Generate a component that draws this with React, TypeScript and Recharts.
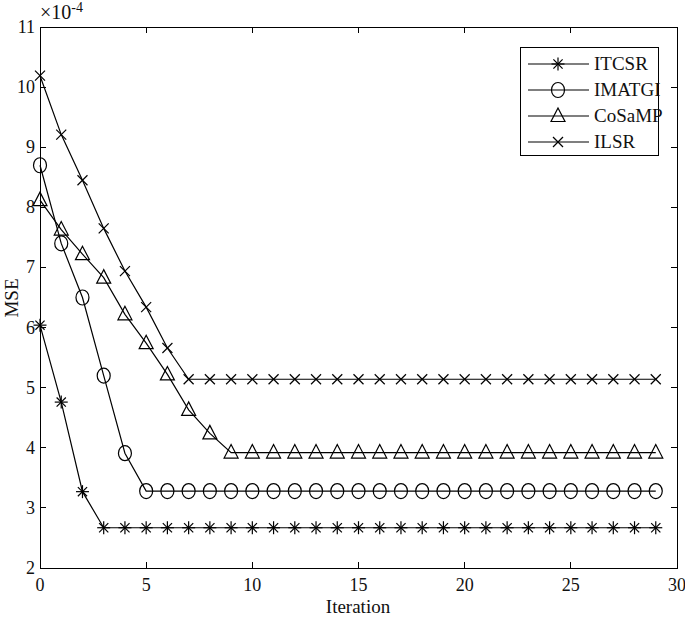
import { Line, LineChart, XAxis, YAxis } from 'recharts'

// MSE values are in units of 1e-4, as on the axis
const ITERATIONS = [
  0, 1, 2, 3, 4, 5, 6, 7, 8, 9, 10, 11, 12, 13, 14, 15, 16, 17, 18, 19, 20, 21, 22, 23, 24, 25, 26, 27, 28, 29,
]
const ITCSR = [
  6.04, 4.76, 3.27, 2.67, 2.67, 2.67, 2.67, 2.67, 2.67, 2.67, 2.67, 2.67, 2.67, 2.67, 2.67, 2.67, 2.67, 2.67, 2.67,
  2.67, 2.67, 2.67, 2.67, 2.67, 2.67, 2.67, 2.67, 2.67, 2.67, 2.67,
]
const IMATGI = [
  8.7, 7.4, 6.5, 5.2, 3.91, 3.28, 3.28, 3.28, 3.28, 3.28, 3.28, 3.28, 3.28, 3.28, 3.28, 3.28, 3.28, 3.28, 3.28, 3.28,
  3.28, 3.28, 3.28, 3.28, 3.28, 3.28, 3.28, 3.28, 3.28, 3.28,
]
const COSAMP = [
  8.12, 7.63, 7.22, 6.83, 6.22, 5.74, 5.22, 4.63, 4.24, 3.92, 3.92, 3.92, 3.92, 3.92, 3.92, 3.92, 3.92, 3.92, 3.92,
  3.92, 3.92, 3.92, 3.92, 3.92, 3.92, 3.92, 3.92, 3.92, 3.92, 3.92,
]
const ILSR = [
  10.19, 9.21, 8.45, 7.65, 6.94, 6.34, 5.66, 5.14, 5.14, 5.14, 5.14, 5.14, 5.14, 5.14, 5.14, 5.14, 5.14, 5.14, 5.14,
  5.14, 5.14, 5.14, 5.14, 5.14, 5.14, 5.14, 5.14, 5.14, 5.14, 5.14,
]
const X_DOMAIN = [0, 30]
const Y_DOMAIN = [2, 11]
const X_TICKS = [0, 5, 10, 15, 20, 25, 30]
const Y_TICKS = [2, 3, 4, 5, 6, 7, 8, 9, 10, 11]

const SERIES = [
  { key: 'ITCSR', values: ITCSR, marker: 'star' },
  { key: 'IMATGI', values: IMATGI, marker: 'circle' },
  { key: 'CoSaMP', values: COSAMP, marker: 'triangle' },
  { key: 'ILSR', values: ILSR, marker: 'cross' },
]

const data = ITERATIONS.map((it, i) => {
  const row: Record<string, number> = { it }
  SERIES.forEach((s) => (row[s.key] = s.values[i]))
  return row
})

const FONT = '"Liberation Serif", "Times New Roman", serif'
const INK = '#000'
const W = 685
const H = 619
const MARGIN = { top: 27, right: 8, left: 0, bottom: 0 }
const Y_AXIS_W = 40
const X_AXIS_H = 51
const TICK_LEN = 6

// plot box, from the same layout numbers the chart uses
const PLOT = {
  left: MARGIN.left + Y_AXIS_W,
  right: W - MARGIN.right,
  top: MARGIN.top,
  bottom: H - MARGIN.bottom - X_AXIS_H,
}
const sx = (v: number) => PLOT.left + ((v - X_DOMAIN[0]) / (X_DOMAIN[1] - X_DOMAIN[0])) * (PLOT.right - PLOT.left)
const sy = (v: number) => PLOT.bottom - ((v - Y_DOMAIN[0]) / (Y_DOMAIN[1] - Y_DOMAIN[0])) * (PLOT.bottom - PLOT.top)

function Marker({ type, cx, cy }: { type: string; cx: number; cy: number }) {
  const sw = 1.2
  if (type === 'circle') {
    return <ellipse cx={cx} cy={cy} rx={6.5} ry={7.5} fill="none" stroke={INK} strokeWidth={sw} />
  }
  if (type === 'triangle') {
    return (
      <polygon
        points={`${cx},${cy - 8} ${cx - 7},${cy + 5.5} ${cx + 7},${cy + 5.5}`}
        fill="none"
        stroke={INK}
        strokeWidth={sw}
      />
    )
  }
  if (type === 'cross') {
    const d = 5
    return (
      <g stroke={INK} strokeWidth={sw}>
        <line x1={cx - d} y1={cy - d} x2={cx + d} y2={cy + d} />
        <line x1={cx - d} y1={cy + d} x2={cx + d} y2={cy - d} />
      </g>
    )
  }
  const r = 6.5
  const d = 4.6
  return (
    <g stroke={INK} strokeWidth={sw}>
      <line x1={cx} y1={cy - r} x2={cx} y2={cy + r} />
      <line x1={cx - r} y1={cy} x2={cx + r} y2={cy} />
      <line x1={cx - d} y1={cy - d} x2={cx + d} y2={cy + d} />
      <line x1={cx - d} y1={cy + d} x2={cx + d} y2={cy - d} />
    </g>
  )
}

const BottomTick = ({ x, y, payload }: any) => (
  <text x={x} y={y} dy={14} textAnchor="middle" fontFamily={FONT} fontSize={18} fill="#111">
    {payload.value}
  </text>
)
const LeftTick = ({ x, y, payload }: any) => (
  <text x={x} y={y} dy={6} textAnchor="end" fontFamily={FONT} fontSize={18} fill="#111">
    {payload.value}
  </text>
)

const bar = (left: number, top: number, width: number, height: number, key: string) => (
  <div key={key} style={{ position: 'absolute', left, top, width, height, background: INK }} />
)

// box + inward ticks on all four sides (MATLAB look), as plain html so it sits on top
const Frame = () => (
  <div style={{ position: 'absolute', left: 0, top: 0, width: W, height: H, pointerEvents: 'none' }}>
    <div
      style={{
        position: 'absolute',
        left: PLOT.left - 0.5,
        top: PLOT.top - 0.5,
        width: PLOT.right - PLOT.left + 1,
        height: PLOT.bottom - PLOT.top + 1,
        border: `1px solid ${INK}`,
        boxSizing: 'border-box',
      }}
    />
    {X_TICKS.slice(1, -1).map((t) => [
      bar(sx(t) - 0.5, PLOT.bottom - TICK_LEN, 1, TICK_LEN, `xb${t}`),
      bar(sx(t) - 0.5, PLOT.top, 1, TICK_LEN, `xt${t}`),
    ])}
    {Y_TICKS.slice(1, -1).map((t) => [
      bar(PLOT.left, sy(t) - 0.5, TICK_LEN, 1, `yl${t}`),
      bar(PLOT.right - TICK_LEN, sy(t) - 0.5, TICK_LEN, 1, `yr${t}`),
    ])}
  </div>
)

const LegendBox = () => (
  <div
    style={{
      position: 'absolute',
      left: 520,
      top: 47,
      width: 137,
      height: 107,
      border: `1px solid ${INK}`,
      background: '#fff',
      fontFamily: FONT,
      fontSize: 19,
      color: '#111',
    }}
  >
    {SERIES.map((s, i) => (
      <div key={s.key} style={{ position: 'absolute', top: 4 + i * 26, left: 0, height: 24, display: 'flex', alignItems: 'center' }}>
        <svg width={72} height={24}>
          <line x1={7} y1={12} x2={68} y2={12} stroke={INK} strokeWidth={1.2} />
          <Marker type={s.marker} cx={37} cy={12} />
        </svg>
        <span style={{ marginLeft: 1 }}>{s.key}</span>
      </div>
    ))}
  </div>
)

export default function App() {
  return (
    <div style={{ position: 'absolute', left: 0, top: 0, width: W, height: H }}>
      <LineChart width={W} height={H} data={data} margin={MARGIN}>
        <XAxis
          dataKey="it"
          type="number"
          domain={X_DOMAIN}
          ticks={X_TICKS}
          height={X_AXIS_H}
          axisLine={false}
          tickLine={false}
          tickSize={0}
          tickMargin={9}
          tick={<BottomTick />}
        />
        <YAxis
          type="number"
          domain={Y_DOMAIN}
          ticks={Y_TICKS}
          width={Y_AXIS_W}
          axisLine={false}
          tickLine={false}
          tickSize={0}
          tickMargin={5}
          tick={<LeftTick />}
        />
        {SERIES.map((s) => (
          <Line
            key={s.key}
            dataKey={s.key}
            stroke={INK}
            strokeWidth={1.2}
            isAnimationActive={false}
            dot={(p: any) => <Marker key={`${s.key}-${p.index}`} type={s.marker} cx={p.cx} cy={p.cy} />}
            activeDot={false}
          />
        ))}
      </LineChart>
      <Frame />
      <LegendBox />
      <div style={{ position: 'absolute', left: 40, top: 0, fontFamily: FONT, fontSize: 20, color: '#111' }}>
        ×10<sup style={{ fontSize: 14, verticalAlign: 7 }}>-4</sup>
      </div>
      <div
        style={{ position: 'absolute', left: 0, top: 596, width: 716, textAlign: 'center', fontFamily: FONT, fontSize: 19, color: '#111' }}
      >
        Iteration
      </div>
      <div
        style={{
          position: 'absolute',
          left: 12,
          top: 298,
          transform: 'translate(-50%, -50%) rotate(-90deg)',
          fontFamily: FONT,
          fontSize: 19,
          color: '#111',
        }}
      >
        MSE
      </div>
    </div>
  )
}
